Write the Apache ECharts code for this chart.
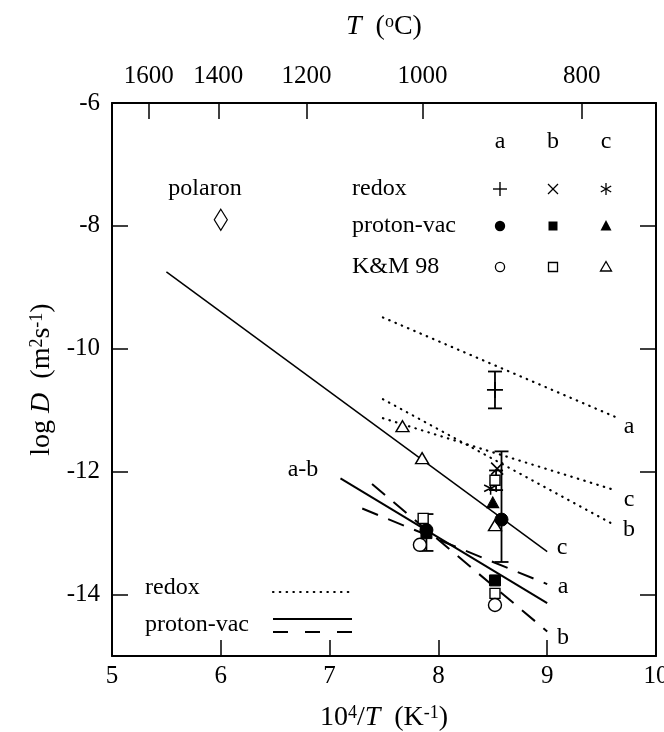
<!DOCTYPE html>
<html><head><meta charset="utf-8">
<script src="https://cdn.jsdelivr.net/npm/echarts@6/dist/echarts.min.js"></script>
<style>html,body{margin:0;padding:0;background:#fff}#c{width:664px;height:732px}</style>
</head><body><div id="c"></div>
<script>
// ---- data ----
const xTicks = [5, 6, 7, 8, 9, 10];
const yTicks = [-14, -12, -10, -8, -6];
const tempTicksC = [1600, 1400, 1200, 1000, 800];

// fitted lines [x, logD]
const redoxA = [[7.49, -9.49], [9.64, -11.12]];
const redoxB = [[7.49, -10.82], [9.62, -12.87]];
const redoxC = [[7.49, -11.13], [9.62, -12.30]];
const protonVacC = [[5.5, -8.75], [9.0, -13.3]];
const protonVacAB = [[7.1, -12.11], [9.0, -14.14]];
const protonVacA = [[7.3, -12.60], [9.0, -13.83]];
const protonVacB = [[7.39, -12.20], [9.0, -14.60]];

// points
const polaronPts = [[6.0, -7.9]];
const redoxAPts = [[8.52, -10.67]];
const redoxBPts = [[8.54, -11.95]];
const redoxCPts = [[8.48, -12.27]];
const pvAPts = [[7.89, -12.95], [8.58, -12.78]];
const pvBPts = [[7.89, -13.0], [8.52, -13.77]];
const pvCPts = [[8.50, -12.50]];
const kmAPts = [[7.83, -13.19], [8.52, -14.17]];
const kmBPts = [[7.86, -12.76], [8.52, -12.14], [8.52, -13.98]];
const kmCPts = [[7.67, -11.26], [7.85, -11.78], [8.52, -12.87]];
// error bars [x, low, high]
const errorBars = [[8.52, -10.97, -10.37], [8.58, -13.47, -11.67], [8.53, -12.30, -11.98], [7.89, -13.29, -12.69]];

// ---- derived ----
const tempPos = tempTicksC.map(t => 1e4 / (t + 273.15));
const FONT = '"Liberation Serif", "DejaVu Serif", serif';
const K = '#000';

const plusPath = 'path://M5,0L5,10M0,5L10,5';
const crossPath = 'path://M0,0L10,10M10,0L0,10';
const starPath = 'path://M5,0L5,10M0.67,2.5L9.33,7.5M9.33,2.5L0.67,7.5';

function lineSeries(data, type, width) {
  return { type: 'line', data, symbol: 'none', silent: true, z: 3,
    lineStyle: { color: K, width, type, cap: 'butt' } };
}
function dotted(data) {
  return { type: 'line', data, symbol: 'none', silent: true, z: 3,
    lineStyle: { color: K, width: 2.2, type: [0.5, 6.3], cap: 'round' } };
}
function scatter(data, symbol, size, filled, bw) {
  return { type: 'scatter', data, symbol, symbolSize: size, z: 5, silent: true,
    itemStyle: { color: filled ? K : '#fff', borderColor: K, borderWidth: bw == null ? 1.4 : bw, opacity: 1 } };
}

const chart = echarts.init(document.getElementById('c'), null, { renderer: 'canvas' });

const tickStyle = { show: true, inside: true, length: 16, lineStyle: { color: K, width: 1.5 } };
const axisLine = { show: true, onZero: false, lineStyle: { color: K, width: 2 } };
const labelBase = { color: K, fontFamily: FONT, fontSize: 25 };

const rich = {
  n: { fontFamily: FONT, fontSize: 28, color: K },
  i: { fontFamily: FONT, fontSize: 28, color: K, fontStyle: 'italic' },
  s: { fontFamily: FONT, fontSize: 18, color: K, verticalAlign: 'top', lineHeight: 18 }
};

const T = (x, y, text, size, align) => ({ type: 'text', x, y, silent: true,
  style: { text, fill: K, font: (size || 24) + 'px ' + FONT, textAlign: align || 'center', textVerticalAlign: 'middle' } });
const L = (x1, y1, x2, y2, dash, w) => ({ type: 'line', silent: true,
  shape: { x1, y1, x2, y2 }, style: { stroke: K, lineWidth: w || 2, lineDash: dash || null } });

// legend table graphics
const colX = [500, 553, 606];
const rowY = { head: 142, redox: 189, pv: 226, km: 267 };
const g = [];
g.push(T(colX[0], rowY.head, 'a'), T(colX[1], rowY.head, 'b'), T(colX[2], rowY.head, 'c'));
g.push(T(352, rowY.redox, 'redox', 24, 'left'), T(352, rowY.pv, 'proton-vac', 24, 'left'), T(352, rowY.km, 'K&M 98', 24, 'left'));
// redox symbols
g.push(L(colX[0] - 7, rowY.redox, colX[0] + 7, rowY.redox, null, 1.4), L(colX[0], rowY.redox - 7, colX[0], rowY.redox + 7, null, 1.4));
g.push(L(colX[1] - 5, rowY.redox - 5, colX[1] + 5, rowY.redox + 5, null, 1.3), L(colX[1] + 5, rowY.redox - 5, colX[1] - 5, rowY.redox + 5, null, 1.3));
g.push(L(colX[2], rowY.redox - 6, colX[2], rowY.redox + 6, null, 1.3),
       L(colX[2] - 5.2, rowY.redox - 3, colX[2] + 5.2, rowY.redox + 3, null, 1.3),
       L(colX[2] + 5.2, rowY.redox - 3, colX[2] - 5.2, rowY.redox + 3, null, 1.3));
// proton-vac symbols
g.push({ type: 'circle', silent: true, shape: { cx: colX[0], cy: rowY.pv, r: 5.2 }, style: { fill: K } });
g.push({ type: 'rect', silent: true, shape: { x: colX[1] - 4.5, y: rowY.pv - 4.5, width: 9, height: 9 }, style: { fill: K } });
g.push({ type: 'polygon', silent: true, shape: { points: [[colX[2], rowY.pv - 6], [colX[2] + 5.5, rowY.pv + 4.5], [colX[2] - 5.5, rowY.pv + 4.5]] }, style: { fill: K } });
// K&M symbols
g.push({ type: 'circle', silent: true, shape: { cx: colX[0], cy: rowY.km, r: 4.6 }, style: { fill: '#fff', stroke: K, lineWidth: 1.3 } });
g.push({ type: 'rect', silent: true, shape: { x: colX[1] - 4.5, y: rowY.km - 4.5, width: 9, height: 9 }, style: { fill: '#fff', stroke: K, lineWidth: 1.3 } });
g.push({ type: 'polygon', silent: true, shape: { points: [[colX[2], rowY.km - 5.5], [colX[2] + 5.5, rowY.km + 4], [colX[2] - 5.5, rowY.km + 4]] }, style: { fill: '#fff', stroke: K, lineWidth: 1.3 } });
// annotations
g.push(T(205, 189, 'polaron'), T(303, 470, 'a-b'));
g.push(T(562, 548, 'c'), T(563, 587, 'a'), T(563, 638, 'b'));
g.push(T(629, 427, 'a'), T(629, 500, 'c'), T(629, 530, 'b'));
// bottom-left legend
g.push(T(145, 588, 'redox', 24, 'left'), T(145, 625, 'proton-vac', 24, 'left'));
g.push({ type: 'line', silent: true, shape: { x1: 273, y1: 592, x2: 349, y2: 592 }, style: { stroke: K, lineWidth: 2.2, lineDash: [0.5, 6.3], lineCap: 'round' } });
g.push(L(273, 619, 352, 619, null, 2));
g.push(L(273, 632, 352, 632, [15, 17], 2));

const option = {
  backgroundColor: '#fff',
  animation: false,
  grid: { left: 112, right: 8, top: 103, bottom: 76, containLabel: false, outerBoundsMode: 'none' },
  xAxis: [
    { type: 'value', position: 'bottom', min: 5, max: 10, interval: 1,
      axisLine, axisTick: Object.assign({ customValues: xTicks }, tickStyle),
      axisLabel: Object.assign({ margin: 8, customValues: xTicks }, labelBase),
      splitLine: { show: false },
      name: '{n|10}{s|4}{n|/}{i|T}{n|  (K}{s|-1}{n|)}', nameLocation: 'middle', nameGap: 48,
      nameTextStyle: { rich } },
    { type: 'value', position: 'top', min: 5, max: 10,
      axisLine, axisTick: Object.assign({ customValues: tempPos }, tickStyle),
      axisLabel: Object.assign({ margin: 14, customValues: tempPos,
        formatter: v => { let b = 0; tempPos.forEach((p, i) => { if (Math.abs(p - v) < Math.abs(tempPos[b] - v)) b = i; }); return String(tempTicksC[b]); } }, labelBase),
      splitLine: { show: false },
      name: '{i|T}{n|  (}{s|o}{n|C)}', nameLocation: 'middle', nameGap: 62,
      nameTextStyle: { rich } }
  ],
  yAxis: [
    { type: 'value', position: 'left', min: -15, max: -6,
      axisLine, axisTick: Object.assign({ customValues: yTicks }, tickStyle),
      axisLabel: Object.assign({ margin: 12, customValues: yTicks, formatter: v => String(v) }, labelBase),
      splitLine: { show: false },
      name: '{n|log }{i|D}{n|  (m}{s|2}{n|s}{s|-1}{n|)}', nameLocation: 'middle', nameGap: 55, nameRotate: 90,
      nameTextStyle: { rich } },
    { type: 'value', position: 'right', min: -15, max: -6,
      axisLine, axisTick: Object.assign({ customValues: yTicks }, tickStyle),
      axisLabel: { show: false }, splitLine: { show: false } }
  ],
  series: [
    dotted(redoxA), dotted(redoxB), dotted(redoxC),
    lineSeries(protonVacC, 'solid', 1.5),
    lineSeries(protonVacAB, 'solid', 2),
    lineSeries(protonVacA, [17, 11], 2),
    lineSeries(protonVacB, [17, 11], 2),
    { type: 'custom', data: errorBars, z: 4, silent: true, encode: { x: 0, y: [1, 2] },
      renderItem: (params, api) => {
        const x = api.value(0);
        const p1 = api.coord([x, api.value(1)]), p2 = api.coord([x, api.value(2)]);
        const w = 7, st = { stroke: K, lineWidth: 1.8 };
        return { type: 'group', children: [
          { type: 'line', shape: { x1: p1[0], y1: p1[1], x2: p2[0], y2: p2[1] }, style: st },
          { type: 'line', shape: { x1: p1[0] - w, y1: p1[1], x2: p1[0] + w, y2: p1[1] }, style: st },
          { type: 'line', shape: { x1: p2[0] - w, y1: p2[1], x2: p2[0] + w, y2: p2[1] }, style: st }
        ] };
      } },
    scatter(polaronPts, 'diamond', [13, 21], false, 1.3),
    scatter(redoxAPts, plusPath, 16, false, 1.8),
    scatter(redoxBPts, crossPath, 12, false, 1.6),
    scatter(redoxCPts, starPath, 13, false, 1.5),
    scatter(kmCPts, 'triangle', [13, 11], false, 1.4),
    scatter(kmBPts, 'rect', 10, false, 1.4),
    scatter(kmAPts, 'circle', 13, false, 1.4),
    scatter(pvCPts, 'triangle', [12, 11], true, 1),
    scatter(pvAPts, 'circle', 13, true, 1),
    scatter(pvBPts, 'rect', 11, true, 1)
  ],
  graphic: g
};
chart.setOption(option);
</script></body></html>
